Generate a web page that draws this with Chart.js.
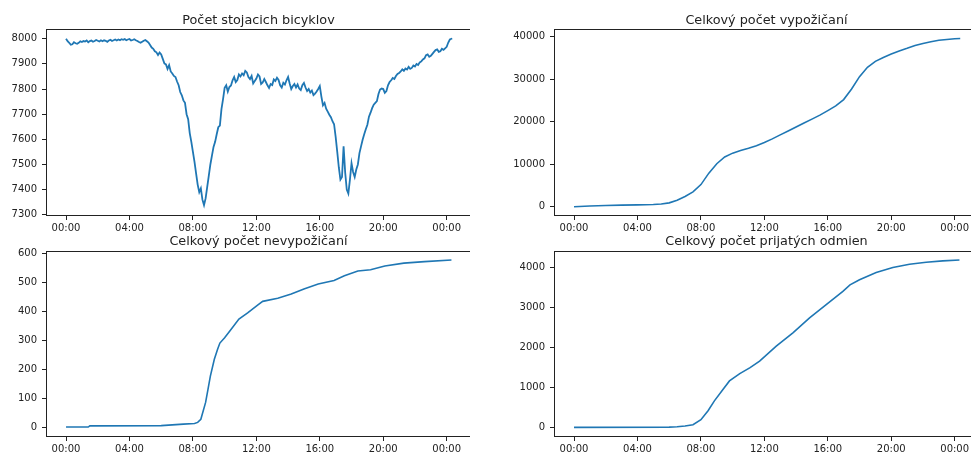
<!DOCTYPE html>
<html>
<head>
<meta charset="utf-8">
<script src="https://cdn.jsdelivr.net/npm/chart.js@4"></script>
<style>
  html, body { margin: 0; padding: 0; background: #fff; width: 971px; height: 457px; overflow: hidden; }
  canvas { position: absolute; }
</style>
</head>
<body>
<canvas id="c1" width="470" height="236" style="left:0;top:0"></canvas>
<canvas id="c2" width="488" height="236" style="left:490px;top:0"></canvas>
<canvas id="c3" width="470" height="236" style="left:0;top:221px"></canvas>
<canvas id="c4" width="488" height="236" style="left:490px;top:221px"></canvas>
<script>
// hodiny od polnoci, 24 = 00:00 dalsi den
const xTicks = [0, 4, 8, 12, 16, 20, 24];

const standHours = [
  0, 0.1, 0.2, 0.3, 0.4, 0.5, 0.6, 0.7, 0.8, 0.9,
  1, 1.1, 1.2, 1.3, 1.4, 1.5, 1.6, 1.7, 1.8, 1.9,
  2, 2.1, 2.2, 2.3, 2.4, 2.5, 2.6, 2.7, 2.8, 2.9,
  3, 3.1, 3.2, 3.3, 3.4, 3.5, 3.6, 3.7, 3.8, 3.9,
  4, 4.1, 4.2, 4.3, 4.4, 4.5, 4.6, 4.7, 4.8, 4.9,
  5, 5.1, 5.2, 5.3, 5.4, 5.5, 5.6, 5.7, 5.8, 5.9,
  6, 6.1, 6.2, 6.3, 6.4, 6.5, 6.6, 6.7, 6.8, 6.9,
  7, 7.1, 7.2, 7.3, 7.4, 7.5, 7.6, 7.7, 7.8, 7.9,
  8, 8.1, 8.2, 8.3, 8.4, 8.5, 8.6, 8.7, 8.8, 8.9,
  9, 9.1, 9.2, 9.3, 9.4, 9.5, 9.6, 9.7, 9.8, 9.9,
  10, 10.1, 10.2, 10.3, 10.4, 10.5, 10.6, 10.7, 10.8, 10.9,
  11, 11.1, 11.2, 11.3, 11.4, 11.5, 11.6, 11.7, 11.8, 11.9,
  12, 12.1, 12.2, 12.3, 12.4, 12.5, 12.6, 12.7, 12.8, 12.9,
  13, 13.1, 13.2, 13.3, 13.4, 13.5, 13.6, 13.7, 13.8, 13.9,
  14, 14.1, 14.2, 14.3, 14.4, 14.5, 14.6, 14.7, 14.8, 14.9,
  15, 15.1, 15.2, 15.3, 15.4, 15.5, 15.6, 15.7, 15.8, 15.9,
  16, 16.1, 16.2, 16.3, 16.4, 16.5, 16.6, 16.7, 16.8, 16.9,
  17, 17.1, 17.2, 17.3, 17.4, 17.5, 17.6, 17.7, 17.8, 17.9,
  18, 18.1, 18.2, 18.3, 18.4, 18.5, 18.6, 18.7, 18.8, 18.9,
  19, 19.1, 19.2, 19.3, 19.4, 19.5, 19.6, 19.7, 19.8, 19.9,
  20, 20.1, 20.2, 20.3, 20.4, 20.5, 20.6, 20.7, 20.8, 20.9,
  21, 21.1, 21.2, 21.3, 21.4, 21.5, 21.6, 21.7, 21.8, 21.9,
  22, 22.1, 22.2, 22.3, 22.4, 22.5, 22.6, 22.7, 22.8, 22.9,
  23, 23.1, 23.2, 23.3, 23.4, 23.5, 23.6, 23.7, 23.8, 23.9,
  24, 24.1, 24.2, 24.3, 24.35
];
const standBikes = [
  8000, 7990, 7984, 7976, 7978, 7986, 7982, 7980, 7984, 7990,
  7987, 7991, 7989, 7993, 7986, 7991, 7993, 7988, 7991, 7995,
  7992, 7989, 7994, 7990, 7994, 7992, 7988, 7993, 7996, 7991,
  7994, 7997, 7993, 7997, 7994, 7998, 7996, 7999, 7994, 7997,
  7999, 7993, 7995, 7998, 7994, 7991, 7987, 7984, 7988, 7992,
  7995, 7990, 7985, 7975, 7965, 7960, 7950, 7946, 7935, 7945,
  7938, 7920, 7902, 7898, 7880, 7895, 7870, 7862, 7852, 7848,
  7830, 7815, 7788, 7775, 7755, 7745, 7700, 7680, 7625, 7590,
  7550, 7510, 7465, 7420, 7390, 7405, 7360, 7338, 7365, 7410,
  7455, 7500, 7535, 7570, 7590, 7620, 7648, 7655, 7720, 7760,
  7805, 7815, 7790, 7808, 7814, 7835, 7848, 7828, 7836, 7858,
  7850, 7862, 7855, 7872, 7866, 7848, 7840, 7852, 7822, 7832,
  7842, 7858, 7850, 7820, 7826, 7840, 7828, 7815, 7804, 7820,
  7816, 7838, 7832, 7845, 7836, 7815, 7806, 7825, 7818, 7835,
  7848, 7822, 7800, 7812, 7820, 7806, 7818, 7802, 7796, 7815,
  7824, 7806, 7792, 7800, 7786, 7794, 7776, 7782, 7790, 7800,
  7812, 7770, 7735, 7745, 7722, 7710, 7698, 7688, 7672, 7660,
  7610, 7550, 7488, 7440, 7450, 7572, 7468, 7400, 7384, 7440,
  7505, 7470, 7450, 7480, 7500, 7545, 7572, 7598, 7620, 7640,
  7658, 7690, 7706, 7724, 7738, 7745, 7752, 7780, 7798, 7802,
  7800, 7785, 7792, 7815, 7828, 7835, 7844, 7840, 7852, 7860,
  7864, 7870, 7878, 7872, 7882, 7878, 7888, 7880, 7884, 7894,
  7890, 7900, 7896, 7906, 7910, 7918, 7922, 7935, 7938, 7928,
  7932, 7940, 7948, 7955, 7958, 7948, 7950, 7960, 7956, 7962,
  7968, 7985, 7997, 8000, 8001
];
const standTicks = [7300, 7400, 7500, 7600, 7700, 7800, 7900, 8000];

const rentHours = [0, 1, 2, 3, 4, 5, 5.5, 6, 6.5, 7, 7.5, 8, 8.5, 9, 9.5, 10, 10.5, 11, 11.5, 12,
  12.5, 13, 13.5, 14, 14.5, 15, 15.5, 16, 16.5, 17, 17.5, 18, 18.5, 19, 19.5, 20, 20.5, 21, 21.5, 22,
  22.5, 23, 23.5, 24, 24.35];
const rentTotal = [0, 150, 280, 360, 430, 520, 650, 900, 1500, 2400, 3500, 5200, 7900, 10100, 11700, 12600, 13200, 13750, 14350, 15100,
  15950, 16900, 17800, 18750, 19700, 20600, 21550, 22600, 23700, 25200, 27700, 30600, 32800, 34200, 35100, 35900, 36650, 37250, 37900, 38400,
  38800, 39150, 39350, 39500, 39560];
const rentTicks = [0, 10000, 20000, 30000, 40000];

const failHours = [0, 1.4, 1.5, 6, 7.4, 8.1, 8.3, 8.5, 8.8, 8.95, 9.1, 9.35, 9.55, 9.7, 10, 10.4, 10.9, 11.45, 12.1, 12.4,
  13.35, 14.2, 15, 15.9, 16.9, 17.55, 18.4, 19.2, 20.1, 21.3, 22.6, 24.3];
const failTotal = [0, 0, 4, 5, 10, 12, 16, 27, 85, 130, 176, 234, 268, 290, 308, 337, 373, 394, 422, 434,
  445, 459, 477, 494, 506, 522, 539, 543, 556, 566, 571, 577];
const failTicks = [0, 100, 200, 300, 400, 500, 600];

const rewardHours = [0, 6, 6.5, 7, 7.5, 8, 8.45, 8.85, 9.4, 9.8, 10.45, 11.1, 11.7, 12.75, 13.8, 14.85, 15.9, 16.95, 17.4, 18,
  19.05, 20.1, 21.15, 22.2, 23.25, 24.3];
const rewardTotal = [0, 5, 16, 35, 66, 190, 414, 662, 952, 1159, 1341, 1490, 1656, 2027, 2360, 2733, 3063, 3394, 3560, 3684,
  3866, 3990, 4074, 4124, 4157, 4181];
const rewardTicks = [0, 1000, 2000, 3000, 4000];

const inkC = '#222';
const lineC = '#1f77b4';
const fontF = "'DejaVu Sans', sans-serif";

// ramik okolo grafu ako v matplotlibe
const frame = {
  id: 'frame',
  afterDraw(chart) {
    const a = chart.chartArea, ctx = chart.ctx;
    ctx.save();
    ctx.strokeStyle = inkC;
    ctx.lineWidth = 1;
    ctx.strokeRect(Math.round(a.left) - 0.5, Math.round(a.top) - 0.5, Math.round(a.right - a.left) + 1, Math.round(a.bottom - a.top) + 1);
    ctx.restore();
  }
};

function hhmm(v) {
  return String(v % 24).padStart(2, '0') + ':00';
}

function kresli(id, title, hours, vals, yMin, yMax, yTicks, yWidth, titlePad, lw) {
  const ctx = document.getElementById(id).getContext('2d');
  return new Chart(ctx, {
    type: 'line',
    data: {
      datasets: [{
        data: hours.map((h, i) => ({ x: h, y: vals[i] })),
        borderColor: lineC, borderWidth: lw, pointRadius: 0, tension: 0, fill: false
      }]
    },
    options: {
      responsive: false, animation: false, devicePixelRatio: 1,
      layout: { padding: 0 },
      plugins: {
        legend: { display: false },
        tooltip: { enabled: false },
        title: {
          display: true, text: title, fullSize: false, color: inkC,
          font: { family: fontF, size: 12.8, weight: 'normal', lineHeight: 1.2 },
          padding: titlePad
        }
      },
      scales: {
        x: {
          type: 'linear', min: -1.2, max: 25.47,
          afterBuildTicks: s => { s.ticks = xTicks.map(v => ({ value: v })); },
          afterFit: s => { s.height = 21; },
          grid: { display: true, drawOnChartArea: false, drawTicks: true, tickLength: 5, color: inkC },
          border: { display: false },
          ticks: { color: inkC, font: { family: fontF, size: 10 }, padding: 2, maxRotation: 0, autoSkip: false, callback: v => hhmm(v) }
        },
        y: {
          type: 'linear', min: yMin, max: yMax,
          afterBuildTicks: s => { s.ticks = yTicks.map(v => ({ value: v })); },
          afterFit: s => { s.width = yWidth; },
          grid: { display: true, drawOnChartArea: false, drawTicks: true, tickLength: 5, color: inkC },
          border: { display: false },
          ticks: { color: inkC, font: { family: fontF, size: 10 }, padding: 5, autoSkip: false, callback: v => String(v) }
        }
      }
    },
    plugins: [frame]
  });
}

kresli('c1', 'Počet stojacich bicyklov', standHours, standBikes, 7299, 8035, standTicks, 47, { top: 12.5, bottom: 2.1 }, 1.8);
kresli('c2', 'Celkový počet vypožičaní', rentHours, rentTotal, -1953, 41576, rentTicks, 65, { top: 12.5, bottom: 2.1 }, 1.6);
kresli('c3', 'Celkový počet nevypožičaní', failHours, failTotal, -30.9, 604.5, failTicks, 47, { top: 12.5, bottom: 3.1 }, 1.6);
kresli('c4', 'Celkový počet prijatých odmien', rewardHours, rewardTotal, -216, 4380, rewardTicks, 65, { top: 12.5, bottom: 3.1 }, 1.6);
</script>
</body>
</html>
